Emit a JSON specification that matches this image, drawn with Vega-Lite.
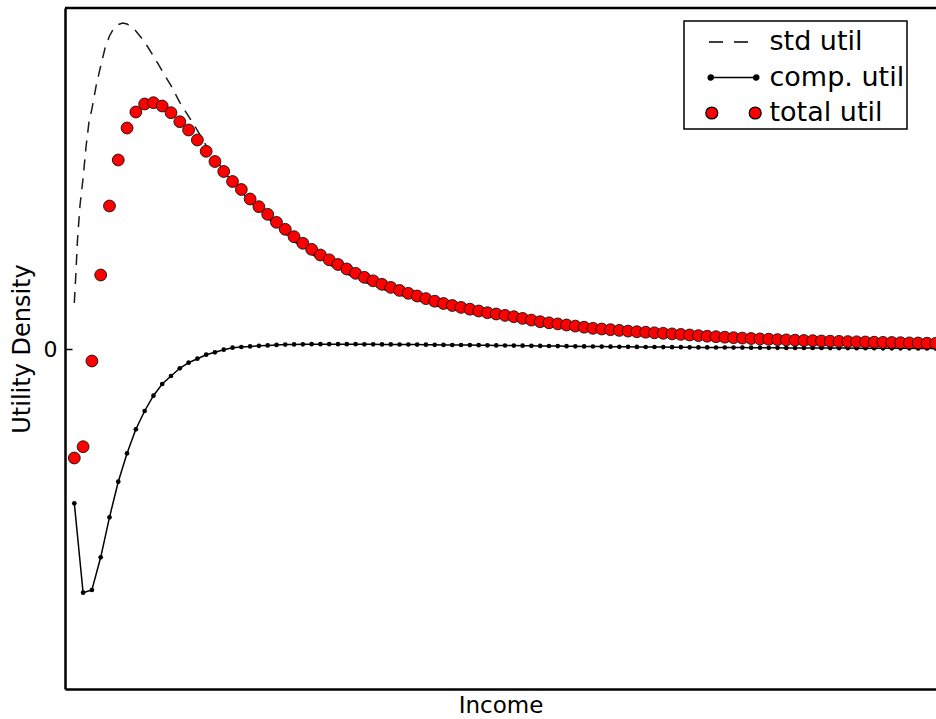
{
  "$schema": "https://vega.github.io/schema/vega-lite/v6.json",
  "width": 871,
  "height": 681,
  "autosize": {"type": "none"},
  "padding": {"left": 65, "top": 8, "right": 0, "bottom": 30},
  "background": "white",
  "config": {
    "view": {"stroke": null},
    "font": "DejaVu Sans",
    "axis": {
      "domainColor": "black",
      "domainWidth": 2.5,
      "grid": false,
      "labelFont": "DejaVu Sans",
      "labelColor": "black",
      "titleFont": "DejaVu Sans",
      "titleColor": "black",
      "titleFontWeight": "normal",
      "labelFontSize": 22
    },
    "legend": {
      "orient": "none",
      "legendX": 619,
      "legendY": 13,
      "padding": 2.5,
      "strokeColor": "black",
      "strokeWidth": 1.5,
      "fillColor": "white",
      "cornerRadius": 0,
      "labelFont": "DejaVu Sans",
      "labelFontSize": 27,
      "labelColor": "black",
      "labelOffset": 17.5,
      "symbolOffset": 28.5,
      "symbolSize": 1225,
      "symbolStrokeWidth": 1.3,
      "symbolStrokeColor": "black",
      "symbolOpacity": 1,
      "rowPadding": 3.5
    }
  },
  "datasets": {
    "std": [
      {"income": 1.0, "std": 46},
      {"income": 1.17, "std": 74},
      {"income": 1.36, "std": 109},
      {"income": 1.65, "std": 144},
      {"income": 2.0, "std": 171},
      {"income": 2.33, "std": 202},
      {"income": 2.67, "std": 227},
      {"income": 3.0, "std": 240},
      {"income": 3.5, "std": 264},
      {"income": 4.0, "std": 283},
      {"income": 4.5, "std": 301},
      {"income": 5.0, "std": 313},
      {"income": 5.5, "std": 321},
      {"income": 6.0, "std": 324.5},
      {"income": 6.5, "std": 326},
      {"income": 7.0, "std": 325},
      {"income": 7.5, "std": 322},
      {"income": 8.0, "std": 318},
      {"income": 9, "std": 307},
      {"income": 10, "std": 293},
      {"income": 11, "std": 278},
      {"income": 12, "std": 263.3},
      {"income": 13, "std": 246.6},
      {"income": 14, "std": 232.7},
      {"income": 15, "std": 218.7},
      {"income": 16, "std": 203.4},
      {"income": 17, "std": 190.8},
      {"income": 18, "std": 178.2},
      {"income": 19, "std": 166.2},
      {"income": 20, "std": 157.5},
      {"income": 21, "std": 147.4},
      {"income": 22, "std": 139.1},
      {"income": 23, "std": 131.1},
      {"income": 24, "std": 122.6},
      {"income": 25, "std": 115.3},
      {"income": 26, "std": 107.7},
      {"income": 27, "std": 101},
      {"income": 28, "std": 94.9},
      {"income": 29, "std": 89.2},
      {"income": 30, "std": 84.4},
      {"income": 31, "std": 79.7},
      {"income": 32, "std": 75.2},
      {"income": 33, "std": 70.9},
      {"income": 34, "std": 67},
      {"income": 35, "std": 63.5},
      {"income": 36, "std": 60.1},
      {"income": 37, "std": 57},
      {"income": 38, "std": 54.1},
      {"income": 39, "std": 51.2},
      {"income": 40, "std": 48.6},
      {"income": 41, "std": 46.1},
      {"income": 42, "std": 43.6},
      {"income": 43, "std": 41.4},
      {"income": 44, "std": 39.5},
      {"income": 45, "std": 37.6},
      {"income": 46, "std": 35.9},
      {"income": 47, "std": 34.2},
      {"income": 48, "std": 32.6},
      {"income": 49, "std": 31.4},
      {"income": 50, "std": 30.1},
      {"income": 51, "std": 28.9},
      {"income": 52, "std": 27.3},
      {"income": 53, "std": 25.7},
      {"income": 54, "std": 24.2},
      {"income": 55, "std": 23.2},
      {"income": 56, "std": 22.2},
      {"income": 57, "std": 21.2},
      {"income": 58, "std": 20.2},
      {"income": 59, "std": 19.2},
      {"income": 60, "std": 18.2},
      {"income": 61, "std": 17.6},
      {"income": 62, "std": 17.0},
      {"income": 63, "std": 16.4},
      {"income": 64, "std": 15.7},
      {"income": 65, "std": 15.2},
      {"income": 66, "std": 14.8},
      {"income": 67, "std": 14.2},
      {"income": 68, "std": 13.8},
      {"income": 69, "std": 13.3},
      {"income": 70, "std": 12.8},
      {"income": 71, "std": 12.3},
      {"income": 72, "std": 11.8},
      {"income": 73, "std": 11.2},
      {"income": 74, "std": 10.8},
      {"income": 75, "std": 10.3},
      {"income": 76, "std": 9.9},
      {"income": 77, "std": 9.5},
      {"income": 78, "std": 9.2},
      {"income": 79, "std": 8.8},
      {"income": 80, "std": 8.6},
      {"income": 81, "std": 8.2},
      {"income": 82, "std": 8.0},
      {"income": 83, "std": 7.7},
      {"income": 84, "std": 7.5},
      {"income": 85, "std": 7.3},
      {"income": 86, "std": 7.0},
      {"income": 87, "std": 6.9},
      {"income": 88, "std": 6.7},
      {"income": 89, "std": 6.5},
      {"income": 90, "std": 6.4},
      {"income": 91, "std": 6.2},
      {"income": 92, "std": 6.0},
      {"income": 93, "std": 5.9},
      {"income": 94, "std": 5.8},
      {"income": 95, "std": 5.6},
      {"income": 96, "std": 5.4},
      {"income": 97, "std": 5.4},
      {"income": 98, "std": 5.2},
      {"income": 99, "std": 5.1}
    ],
    "util": [
      {"income": 1, "comp": -154.3, "total": -109},
      {"income": 2, "comp": -243.7, "total": -97.7},
      {"income": 3, "comp": -241, "total": -12},
      {"income": 4, "comp": -208.3, "total": 74},
      {"income": 5, "comp": -168.3, "total": 143},
      {"income": 6, "comp": -132.7, "total": 189},
      {"income": 7, "comp": -104.3, "total": 221},
      {"income": 8, "comp": -80.3, "total": 237},
      {"income": 9, "comp": -62, "total": 245},
      {"income": 10, "comp": -46.7, "total": 246.3},
      {"income": 11, "comp": -35, "total": 243},
      {"income": 12, "comp": -27, "total": 236.3},
      {"income": 13, "comp": -19.3, "total": 227.3},
      {"income": 14, "comp": -13.7, "total": 219},
      {"income": 15, "comp": -9.7, "total": 209},
      {"income": 16, "comp": -5.7, "total": 197.7},
      {"income": 17, "comp": -3.3, "total": 187.5},
      {"income": 18, "comp": -0.7, "total": 177.5},
      {"income": 19, "comp": 1.3, "total": 167.5},
      {"income": 20, "comp": 2, "total": 159.5},
      {"income": 21, "comp": 2.6, "total": 150},
      {"income": 22, "comp": 3.2, "total": 142.3},
      {"income": 23, "comp": 3.6, "total": 134.7},
      {"income": 24, "comp": 4.1, "total": 126.7},
      {"income": 25, "comp": 4.4, "total": 119.7},
      {"income": 26, "comp": 4.6, "total": 112.3},
      {"income": 27, "comp": 4.7, "total": 105.7},
      {"income": 28, "comp": 4.8, "total": 99.7},
      {"income": 29, "comp": 4.8, "total": 94},
      {"income": 30, "comp": 4.8, "total": 89.2},
      {"income": 31, "comp": 4.8, "total": 84.5},
      {"income": 32, "comp": 4.8, "total": 80},
      {"income": 33, "comp": 4.8, "total": 75.7},
      {"income": 34, "comp": 4.7, "total": 71.7},
      {"income": 35, "comp": 4.7, "total": 68.2},
      {"income": 36, "comp": 4.6, "total": 64.7},
      {"income": 37, "comp": 4.6, "total": 61.6},
      {"income": 38, "comp": 4.5, "total": 58.6},
      {"income": 39, "comp": 4.5, "total": 55.7},
      {"income": 40, "comp": 4.4, "total": 53},
      {"income": 41, "comp": 4.3, "total": 50.4},
      {"income": 42, "comp": 4.2, "total": 47.8},
      {"income": 43, "comp": 4.1, "total": 45.5},
      {"income": 44, "comp": 4.0, "total": 43.5},
      {"income": 45, "comp": 4.0, "total": 41.6},
      {"income": 46, "comp": 3.9, "total": 39.8},
      {"income": 47, "comp": 3.8, "total": 38.0},
      {"income": 48, "comp": 3.7, "total": 36.3},
      {"income": 49, "comp": 3.6, "total": 35.0},
      {"income": 50, "comp": 3.5, "total": 33.6},
      {"income": 51, "comp": 3.4, "total": 32.3},
      {"income": 52, "comp": 3.3, "total": 30.6},
      {"income": 53, "comp": 3.2, "total": 28.9},
      {"income": 54, "comp": 3.1, "total": 27.3},
      {"income": 55, "comp": 3.0, "total": 26.2},
      {"income": 56, "comp": 2.9, "total": 25.1},
      {"income": 57, "comp": 2.8, "total": 24.0},
      {"income": 58, "comp": 2.7, "total": 22.9},
      {"income": 59, "comp": 2.6, "total": 21.8},
      {"income": 60, "comp": 2.5, "total": 20.7},
      {"income": 61, "comp": 2.4, "total": 20.0},
      {"income": 62, "comp": 2.3, "total": 19.3},
      {"income": 63, "comp": 2.2, "total": 18.6},
      {"income": 64, "comp": 2.2, "total": 17.9},
      {"income": 65, "comp": 2.1, "total": 17.3},
      {"income": 66, "comp": 2.0, "total": 16.8},
      {"income": 67, "comp": 2.0, "total": 16.2},
      {"income": 68, "comp": 1.9, "total": 15.7},
      {"income": 69, "comp": 1.8, "total": 15.1},
      {"income": 70, "comp": 1.8, "total": 14.6},
      {"income": 71, "comp": 1.7, "total": 14.0},
      {"income": 72, "comp": 1.6, "total": 13.4},
      {"income": 73, "comp": 1.6, "total": 12.8},
      {"income": 74, "comp": 1.5, "total": 12.3},
      {"income": 75, "comp": 1.5, "total": 11.8},
      {"income": 76, "comp": 1.4, "total": 11.3},
      {"income": 77, "comp": 1.4, "total": 10.9},
      {"income": 78, "comp": 1.3, "total": 10.5},
      {"income": 79, "comp": 1.3, "total": 10.1},
      {"income": 80, "comp": 1.2, "total": 9.8},
      {"income": 81, "comp": 1.2, "total": 9.4},
      {"income": 82, "comp": 1.1, "total": 9.1},
      {"income": 83, "comp": 1.1, "total": 8.8},
      {"income": 84, "comp": 1.0, "total": 8.5},
      {"income": 85, "comp": 1.0, "total": 8.3},
      {"income": 86, "comp": 1.0, "total": 8.0},
      {"income": 87, "comp": 0.9, "total": 7.8},
      {"income": 88, "comp": 0.9, "total": 7.6},
      {"income": 89, "comp": 0.9, "total": 7.4},
      {"income": 90, "comp": 0.8, "total": 7.2},
      {"income": 91, "comp": 0.8, "total": 7.0},
      {"income": 92, "comp": 0.8, "total": 6.8},
      {"income": 93, "comp": 0.7, "total": 6.6},
      {"income": 94, "comp": 0.7, "total": 6.5},
      {"income": 95, "comp": 0.7, "total": 6.3},
      {"income": 96, "comp": 0.7, "total": 6.1},
      {"income": 97, "comp": 0.6, "total": 6.0},
      {"income": 98, "comp": 0.6, "total": 5.8},
      {"income": 99, "comp": 0.6, "total": 5.7}
    ]
  },
  "layer": [
    {
      "data": {"name": "std"},
      "mark": {"type": "line", "color": "#1a1a1a", "strokeWidth": 1.5, "strokeDash": [11, 8]},
      "encoding": {
        "x": {"field": "income", "type": "quantitative", "scale": {"domain": [-0.06, 99.03], "nice": false, "zero": false},
              "axis": {"title": "Income", "ticks": false, "labels": false, "titlePadding": 5, "titleFontSize": 23}},
        "y": {"field": "std", "type": "quantitative", "scale": {"domain": [-340, 341], "nice": false, "zero": false},
              "axis": {"title": "Utility Density", "values": [0], "tickSize": -7, "tickColor": "black", "tickWidth": 1.5, "labelPadding": 15, "titlePadding": 9, "titleFontSize": 24}}
      }
    },
    {
      "data": {"name": "util"},
      "mark": {"type": "line", "color": "black", "strokeWidth": 1.5, "point": {"filled": true, "size": 22, "color": "black"}},
      "encoding": {
        "x": {"field": "income", "type": "quantitative"},
        "y": {"field": "comp", "type": "quantitative", "title": "Utility Density"}
      }
    },
    {
      "data": {"name": "util"},
      "mark": {"type": "circle", "size": 140, "fill": "#ff0000", "stroke": "#111111", "strokeWidth": 0.9, "opacity": 1},
      "encoding": {
        "x": {"field": "income", "type": "quantitative"},
        "y": {"field": "total", "type": "quantitative", "title": "Utility Density"}
      }
    },
    {
      "data": {"values": [{"series": "std util"}, {"series": "comp. util"}, {"series": "total util"}]},
      "mark": {"type": "point", "filled": true, "opacity": 0},
      "encoding": {
        "color": {"field": "series", "type": "nominal",
                  "scale": {"domain": ["std util", "comp. util", "total util"], "range": ["black", "black", "#ff0000"]},
                  "legend": {"title": null,
                             "encode": {"symbols": {"update": {"stroke": {"value": "black"}, "strokeWidth": {"value": 1.3}, "opacity": {"value": 1}}}}}},
        "shape": {"field": "series", "type": "nominal",
                  "scale": {"domain": ["std util", "comp. util", "total util"],
                            "range": ["M-1.4 0H-0.6M0.03 0H0.83",
                                      "M-1.3 0H1.3M-1.15 0A0.15 0.15 0 1 1 -1.45 0A0.15 0.15 0 1 1 -1.15 0ZM1.45 0A0.15 0.15 0 1 1 1.15 0A0.15 0.15 0 1 1 1.45 0Z",
                                      "M-0.9 0A0.34 0.34 0 1 1 -1.58 0A0.34 0.34 0 1 1 -0.9 0ZM1.58 0A0.34 0.34 0 1 1 0.9 0A0.34 0.34 0 1 1 1.58 0Z"]},
                  "legend": {"title": null}}
      }
    },
    {
      "data": {"values": [{"edge": "top"}]},
      "mark": {"type": "rule", "color": "black", "strokeWidth": 2.5},
      "encoding": {"y": {"datum": 341, "type": "quantitative", "title": "Utility Density"}}
    }
  ]
}
